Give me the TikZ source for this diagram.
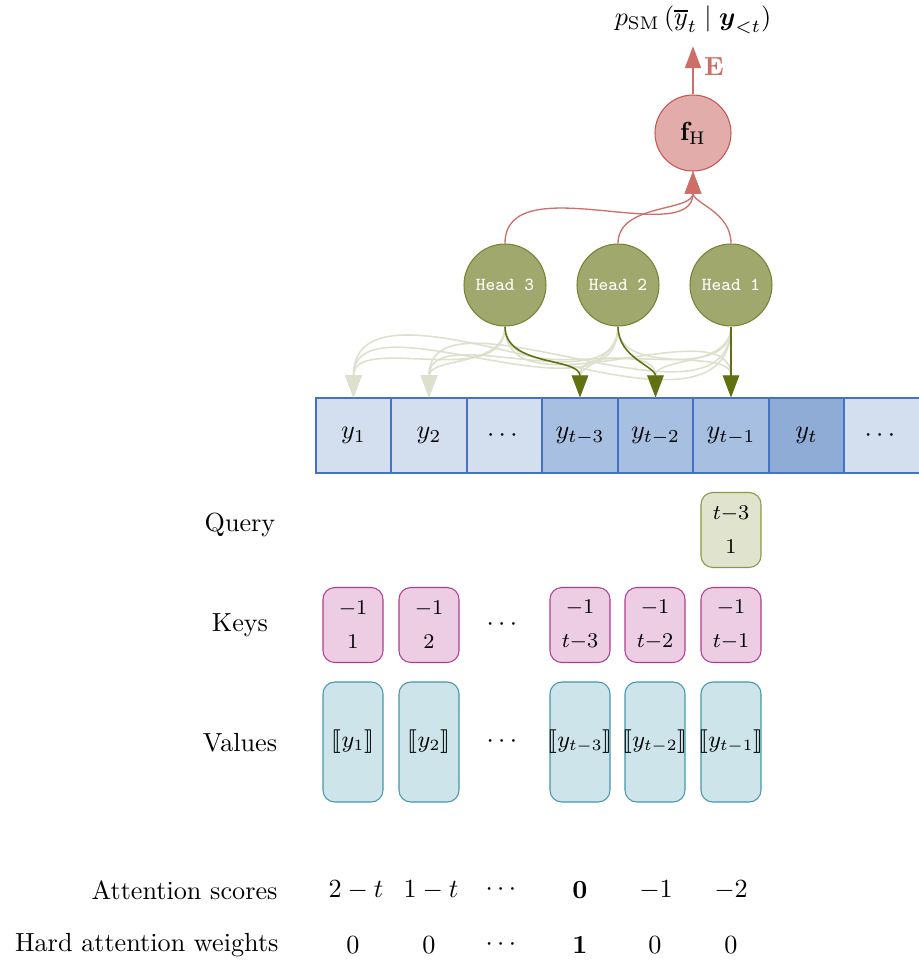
\documentclass[tikz,border=0pt]{standalone}
\usepackage{amsmath,amssymb,stmaryrd}
\usetikzlibrary{arrows.meta}
\newlength\pxu
\setlength\pxu{0.382pt}
\definecolor{cellLight}{RGB}{211,222,238}
\definecolor{cellMid}{RGB}{167,191,224}
\definecolor{cellDark}{RGB}{143,172,214}
\definecolor{cellBorder}{RGB}{68,114,196}
\definecolor{headFill}{RGB}{160,168,110}
\definecolor{headBorder}{RGB}{120,130,50}
\definecolor{darkGreen}{RGB}{98,112,18}
\definecolor{faintGreen}{RGB}{220,224,205}
\definecolor{fhFill}{RGB}{226,172,170}
\definecolor{fhBorder}{RGB}{200,85,80}
\definecolor{redArrow}{RGB}{205,110,105}
\definecolor{qFill}{RGB}{224,228,206}
\definecolor{qBorder}{RGB}{140,150,70}
\definecolor{kFill}{RGB}{237,205,228}
\definecolor{kBorder}{RGB}{175,60,145}
\definecolor{vFill}{RGB}{204,228,234}
\definecolor{vBorder}{RGB}{70,150,170}
\newcommand\vtxt[1]{\makebox[0pt]{$\llbracket #1\rrbracket$}}
\tikzset{
  cell/.style={draw=cellBorder,minimum width=75\pxu,minimum height=75\pxu,inner sep=0pt},
  headnode/.style={circle,draw=headBorder,fill=headFill,minimum size=82\pxu,inner sep=0pt,text=white,font=\scriptsize\ttfamily},
  fhnode/.style={circle,draw=fhBorder,fill=fhFill,minimum size=76\pxu,inner sep=0pt},
  keybox/.style={draw=kBorder,fill=kFill,rounded corners=4.5pt,minimum width=60\pxu,minimum height=75\pxu,inner sep=0pt,align=center,font=\footnotesize},
  valbox/.style={draw=vBorder,fill=vFill,rounded corners=4.5pt,minimum width=60\pxu,minimum height=120\pxu,inner sep=0pt,font=\small},
  querybox/.style={draw=qBorder,fill=qFill,rounded corners=4.5pt,minimum width=60\pxu,minimum height=75\pxu,inner sep=0pt,align=center,font=\footnotesize},
  tipT/.tip={Triangle[width=6.2pt,length=8.4pt]},
  redarr/.style={draw=redArrow,line width=0.5pt,-{tipT[fill=redArrow]}},
  darkarr/.style={draw=darkGreen,line width=0.6pt,-{tipT[fill=darkGreen]}},
  faintarr/.style={draw=faintGreen,line width=0.6pt,-{tipT[fill=faintGreen]}},
  rowlabel/.style={inner sep=0pt}
}
\begin{document}
\begin{tikzpicture}[x=0.382pt,y=-0.382pt]
\useasboundingbox (0,0) rectangle (919,964);
% sequence cells
\node[cell,fill=cellLight] (c1) at (353.5,435.5) {$y_1$};
\node[cell,fill=cellLight] (c2) at (429,435.5) {$y_2$};
\node[cell,fill=cellLight] (c3) at (504.5,435.5) {$\cdots$};
\node[cell,fill=cellMid] (c4) at (580,435.5) {$y_{t-3}$};
\node[cell,fill=cellMid] (c5) at (655.5,435.5) {$y_{t-2}$};
\node[cell,fill=cellMid] (c6) at (731,435.5) {$y_{t-1}$};
\node[cell,fill=cellDark] (c7) at (806.5,435.5) {$y_t$};
\node[cell,fill=cellLight] (c8) at (882,435.5) {$\cdots$};
% heads
\node[headnode] (h3) at (505,285) {Head 3};
\node[headnode] (h2) at (618,285) {Head 2};
\node[headnode] (h1) at (731,285) {Head 1};
% f_H
\node[fhnode] (fh) at (693,133) {$\mathbf{f}_{\mathrm{H}}$};
\node[inner sep=0pt] (out) at (693,20) {$p_{\mathrm{SM}}\left(\overline{y}_t \mid \boldsymbol{y}_{<t}\right)$};
\draw[redarr,shorten >=12\pxu] (fh.north) -- node[right,text=redArrow,inner sep=4pt,yshift=-1pt] {$\mathbf{E}$} (out.south);
\foreach \h in {h3,h2,h1}{
  \draw[redarr] (\h.north) to[out=90,in=-90] (fh.south);
}
% faint attention arrows
\foreach \h/\c in {h3/c1,h3/c2,h3/c5,h3/c6,h2/c1,h2/c2,h2/c4,h2/c6,h1/c1,h1/c2,h1/c4,h1/c5}{
  \draw[faintarr] (\h.south) to[out=-90,in=90] (\c.north);
}
\draw[darkarr] (h3.south) to[out=-90,in=90] (c4.north);
\draw[darkarr] (h2.south) to[out=-90,in=90] (c5.north);
\draw[darkarr] (h1.south) -- (c6.north);
% query
\node[rowlabel] (lq) at (240,525) {Query};
\node[querybox] (q) at (731,530) {$t{-}3$\\[3.5pt]$1$};
% keys
\node[rowlabel] (lk) at (240,625) {Keys};
\node[keybox] (k1) at (353,625) {$-1$\\[3.5pt]$1$};
\node[keybox] (k2) at (429,625) {$-1$\\[3.5pt]$2$};
\node (kd) at (504,625) {$\cdots$};
\node[keybox] (k4) at (580,625) {$-1$\\[3.5pt]$t{-}3$};
\node[keybox] (k5) at (655,625) {$-1$\\[3.5pt]$t{-}2$};
\node[keybox] (k6) at (731,625) {$-1$\\[3.5pt]$t{-}1$};
% values
\node[rowlabel] (lv) at (240,743) {Values};
\node[valbox] (v1) at (353,742) {\vtxt{y_1}};
\node[valbox] (v2) at (429,742) {\vtxt{y_2}};
\node (vd) at (504,742) {$\cdots$};
\node[valbox] (v4) at (580,742) {\vtxt{y_{t-3}}};
\node[valbox] (v5) at (655,742) {\vtxt{y_{t-2}}};
\node[valbox] (v6) at (731,742) {\vtxt{y_{t-1}}};
% scores
\node[rowlabel,anchor=east] (ls) at (278,890) {Attention scores};
\node (s1) at (356,890) {$2-t$};
\node (s2) at (431,890) {$1-t$};
\node (s3) at (503,890) {$\cdots$};
\node (s4) at (580,890) {$\mathbf{0}$};
\node (s5) at (656,890) {$-1$};
\node (s6) at (731,890) {$-2$};
% weights
\node[rowlabel,anchor=east] (lw) at (279,945) {Hard attention weights};
\node (w1) at (353,945) {$0$};
\node (w2) at (429,945) {$0$};
\node (w3) at (503,945) {$\cdots$};
\node (w4) at (580,945) {$\mathbf{1}$};
\node (w5) at (655,945) {$0$};
\node (w6) at (731,945) {$0$};
\end{tikzpicture}
\end{document}
